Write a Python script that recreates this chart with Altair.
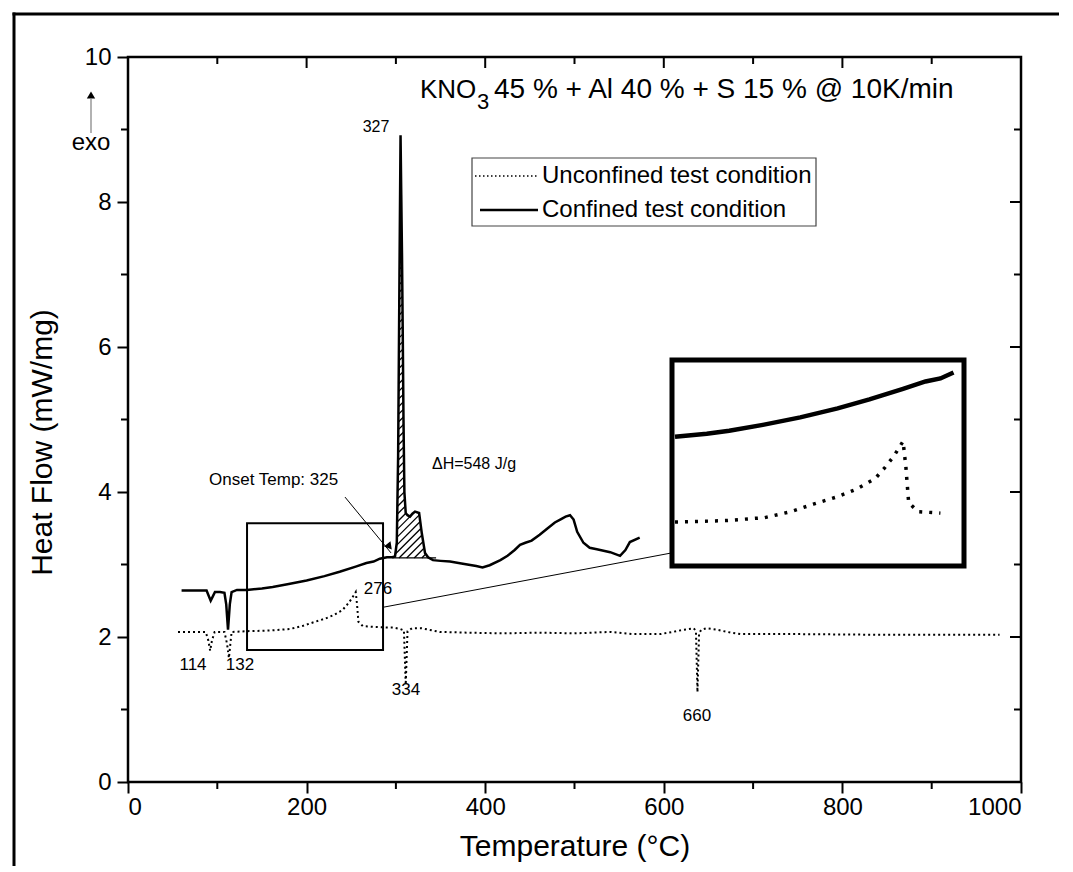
import altair as alt
import numpy as np
import pandas as pd

# ---------------- data ----------------
conf_T = [60, 88, 90, 92.6, 95, 97.4, 103, 108, 110, 112, 114, 116, 122, 133, 150, 162, 180, 200,
          220, 237, 255, 267, 275, 282, 290, 296, 299, 301, 302.5, 304, 305.2, 306, 306.8, 307.6,
          308.5, 309.5, 311, 313, 315.8, 318.5, 321.4, 326, 329, 332.6, 336, 341.5, 350, 360.6,
          375, 390, 397, 405, 417, 425, 433, 439, 445, 452, 461, 470, 478, 484, 490, 495, 499,
          503, 510, 517, 525, 540, 551, 557, 562, 573]
conf_V = [2.64, 2.64, 2.58, 2.50, 2.56, 2.62, 2.62, 2.61, 2.45, 2.10, 2.45, 2.62, 2.65, 2.65, 2.67,
          2.69, 2.73, 2.78, 2.84, 2.90, 2.97, 3.02, 3.04, 3.08, 3.10, 3.10, 3.11, 3.30, 4.50, 7.00,
          8.92, 8.10, 7.30, 6.30, 5.00, 4.00, 3.71, 3.68, 3.66, 3.70, 3.73, 3.71, 3.43, 3.16, 3.10,
          3.06, 3.05, 3.04, 3.01, 2.98, 2.96, 2.99, 3.06, 3.12, 3.20, 3.27, 3.30, 3.33, 3.41, 3.50,
          3.58, 3.62, 3.66, 3.68, 3.62, 3.45, 3.30, 3.23, 3.21, 3.17, 3.12, 3.20, 3.31, 3.37]

unc_T = [56, 87, 90, 92, 94, 97, 108, 111, 113, 116, 133, 160, 181, 195, 207, 220, 230, 240, 245,
         250, 255, 256.5, 258, 263, 275, 290, 297, 305, 309, 311, 313, 318, 329, 349, 380, 420,
         460, 500, 540, 565, 596, 610, 622, 633.6, 636, 637.7, 639.5, 642, 648, 659.5, 675, 686,
         750, 850, 976]
unc_V = [2.07, 2.07, 1.95, 1.81, 1.95, 2.07, 2.07, 1.90, 1.71, 2.07, 2.08, 2.09, 2.11, 2.15, 2.20,
         2.25, 2.30, 2.37, 2.44, 2.52, 2.62, 2.45, 2.21, 2.15, 2.14, 2.13, 2.13, 2.11, 2.09, 1.34,
         2.08, 2.12, 2.12, 2.07, 2.06, 2.05, 2.06, 2.05, 2.07, 2.04, 2.04, 2.07, 2.10, 2.12, 2.08,
         1.24, 2.05, 2.10, 2.12, 2.10, 2.06, 2.04, 2.04, 2.03, 2.03]

x_major = [0, 200, 400, 600, 800, 1000]
x_minor = [100, 300, 500, 700, 900]
y_major = [0, 2, 4, 6, 8, 10]
y_minor = [1, 3, 5, 7, 9]

zoom_box_T = [133.3, 285.6]
zoom_box_V = [1.82, 3.57]
inset_T = [133, 286]
inset_V = [1.80, 3.15]
connector_T = [285.6, 609]
connector_V = [2.41, 3.16]

baseline_V = 3.09
baseline_T = [296, 345]
hatch_T = [299, 342]

ann_text = ["327", "114", "132", "276", "334", "660", "Onset Temp: 325", "\u0394H=548 J/g"]
ann_T = [277.7, 72.8, 125.4, 280, 311.3, 637.2, 90.7, 340.4]
ann_V = [9.03, 1.61, 1.61, 2.66, 1.27, 0.91, 4.17, 4.39]
ann_size = [16, 17, 17, 17, 17, 17, 17, 16]
ann_align = ["center", "center", "center", "center", "center", "center", "left", "left"]

onset_arrow_T = [243, 294.5]
onset_arrow_V = [3.93, 3.16]

legend_labels = ["Unconfined test condition", "Confined test condition"]
title_parts = ["KNO", "3", "45 % + Al 40 % + S 15 % @ 10K/min"]

# ---------------- layout ----------------
W, H = 893, 725
FONT = "Liberation Sans"

conf = pd.DataFrame({"T": conf_T, "V": conf_V})
unc = pd.DataFrame({"T": unc_T, "V": unc_V})

# hatch lines (45 deg in pixel space) between the curve and baseline
k = (W / 1000) / (H / 10)
Ts = np.arange(hatch_T[0], hatch_T[1], 0.02)
curve = np.interp(Ts, conf_T, conf_V)
rows = []
for c in np.arange(hatch_T[0] - 480, hatch_T[1], 8.5):
    Vl = baseline_V + k * (Ts - c)
    inside = (Vl >= baseline_V) & (Vl <= curve)
    idx = np.where(inside)[0]
    if len(idx) == 0:
        continue
    for s in np.split(idx, np.where(np.diff(idx) > 1)[0] + 1):
        if len(s) < 2:
            continue
        rows.append({"T": Ts[s[0]], "V": Vl[s[0]], "T2": Ts[s[-1]], "V2": Vl[s[-1]]})
hatch = pd.DataFrame(rows)

xs = alt.Scale(domain=[0, 1000], nice=False, zero=False)
ys = alt.Scale(domain=[0, 10], nice=False, zero=False)
X = alt.X("T:Q", scale=xs, axis=alt.Axis(
    values=x_major, format="d", title="Temperature (\u00b0C)", domain=False, grid=False,
    tickSize=11, tickWidth=2, tickColor="black", labelPadding=2,
    labelFont=FONT, labelFontSize=24, labelColor="black",
    titleFont=FONT, titleFontSize=30, titleFontWeight="normal", titleColor="black",
    titleY=64, titleBaseline="middle"))
Y = alt.Y("V:Q", scale=ys, axis=alt.Axis(
    values=y_major, format="d", title="Heat Flow (mW/mg)", domain=False, grid=False,
    tickSize=11, tickWidth=2, tickColor="black", labelPadding=6,
    labelFont=FONT, labelFontSize=24, labelColor="black",
    titleFont=FONT, titleFontSize=30, titleFontWeight="normal", titleColor="black",
    titleX=-86, titleY=385, titleAngle=270, titleAlign="center", titleBaseline="middle"))

layers = []
# outer border of the whole figure: only its top and left edges fall inside the picture
one = pd.DataFrame({"a": [0]})
layers.append(alt.Chart(one).mark_rule(color="black", strokeWidth=3).encode(
    x=alt.value(-115.5), x2=alt.value(W + 200), y=alt.value(-43)))
layers.append(alt.Chart(one).mark_rule(color="black", strokeWidth=3).encode(
    x=alt.value(-114), y=alt.value(-44.5), y2=alt.value(H + 250)))

# minor & mirror ticks
def tick_rules(vals, axis, a, b):
    d = pd.DataFrame({"t": vals})
    if axis == "x":
        return alt.Chart(d).mark_rule(color="black", strokeWidth=2).encode(
            x=alt.X("t:Q", scale=xs), y=alt.value(a), y2=alt.value(b))
    return alt.Chart(d).mark_rule(color="black", strokeWidth=2).encode(
        y=alt.Y("t:Q", scale=ys), x=alt.value(a), x2=alt.value(b))

layers += [
    tick_rules(x_minor, "x", H, H + 7),
    tick_rules(x_major, "x", 0, 11),
    tick_rules(x_minor, "x", 0, 7),
    tick_rules(y_minor, "y", -7, 0),
    tick_rules(y_major, "y", W - 11, W),
    tick_rules(y_minor, "y", W - 7, W),
]

# hatch
layers.append(alt.Chart(hatch).mark_rule(color="black", strokeWidth=1.3).encode(
    x=X, y=Y, x2="T2:Q", y2="V2:Q"))
layers.append(alt.Chart(pd.DataFrame({"T": [baseline_T[0]], "T2": [baseline_T[1]], "V": [baseline_V]}))
              .mark_rule(color="black", strokeWidth=1.2).encode(x=X, x2="T2:Q", y=Y))

# curves
layers.append(alt.Chart(unc).mark_line(color="black", strokeWidth=2, strokeDash=[2, 3]).encode(x=X, y=Y, order="T:Q"))
layers.append(alt.Chart(conf).mark_line(color="black", strokeWidth=2.5).encode(x=X, y=Y, order="T:Q"))

# zoom box and connector
layers.append(alt.Chart(pd.DataFrame({"T": [zoom_box_T[0]], "T2": [zoom_box_T[1]],
                                      "V": [zoom_box_V[0]], "V2": [zoom_box_V[1]]}))
              .mark_rect(fill=None, stroke="black", strokeWidth=2).encode(x=X, x2="T2:Q", y=Y, y2="V2:Q"))
layers.append(alt.Chart(pd.DataFrame({"T": connector_T, "V": connector_V}))
              .mark_line(color="black", strokeWidth=1).encode(x=X, y=Y))

# onset arrow
layers.append(alt.Chart(pd.DataFrame({"T": [onset_arrow_T[0]], "T2": [onset_arrow_T[1]],
                                      "V": [onset_arrow_V[0]], "V2": [onset_arrow_V[1]]}))
              .mark_rule(color="black", strokeWidth=1).encode(x=X, x2="T2:Q", y=Y, y2="V2:Q"))
layers.append(alt.Chart(pd.DataFrame({"T": [onset_arrow_T[1] - 2.5], "V": [onset_arrow_V[1] + 0.1]}))
              .mark_point(shape="triangle", filled=True, color="black", size=70, angle=141, opacity=1).encode(x=X, y=Y))

# annotations
ann = pd.DataFrame({"T": ann_T, "V": ann_V, "txt": ann_text, "size": ann_size, "al": ann_align})
for al in ["center", "left"]:
    layers.append(alt.Chart(ann[ann.al == al]).mark_text(font=FONT, color="black", align=al, baseline="middle").encode(
        x=X, y=Y, text="txt:N", size=alt.Size("size:Q", scale=None, legend=None)))

# exo arrow
layers.append(alt.Chart(one).mark_rule(color="#999999", strokeWidth=1.5).encode(
    x=alt.value(-37), y=alt.value(76), y2=alt.value(42)))
layers.append(alt.Chart(one).mark_point(shape="triangle-up", filled=True, color="black", size=70, opacity=1).encode(
    x=alt.value(-37), y=alt.value(38)))
layers.append(alt.Chart(pd.DataFrame({"t": ["exo"]})).mark_text(font=FONT, fontSize=24, color="black", align="center", baseline="middle").encode(
    x=alt.value(-37), y=alt.value(86), text="t:N"))

# title (KNO with subscript 3)
layers.append(alt.Chart(pd.DataFrame({"t": [title_parts[0]]})).mark_text(font=FONT, fontSize=26, color="black", align="left", baseline="middle").encode(
    x=alt.value(292), y=alt.value(33), text="t:N"))
layers.append(alt.Chart(pd.DataFrame({"t": [title_parts[1]]})).mark_text(font=FONT, fontSize=22, color="black", align="left", baseline="middle").encode(
    x=alt.value(349), y=alt.value(45), text="t:N"))
layers.append(alt.Chart(pd.DataFrame({"t": [title_parts[2]]})).mark_text(font=FONT, fontSize=28, color="black", align="left", baseline="middle").encode(
    x=alt.value(366), y=alt.value(33), text="t:N"))

# legend
layers.append(alt.Chart(one).mark_rect(fill="white", stroke="#444444", strokeWidth=1.2).encode(
    x=alt.value(344), x2=alt.value(688), y=alt.value(101), y2=alt.value(169)))
layers.append(alt.Chart(one).mark_rule(color="black", strokeWidth=1.5, strokeDash=[1.5, 2.5]).encode(
    x=alt.value(347), x2=alt.value(410), y=alt.value(119)))
layers.append(alt.Chart(one).mark_rule(color="black", strokeWidth=2.5).encode(
    x=alt.value(352), x2=alt.value(410), y=alt.value(153)))
layers.append(alt.Chart(pd.DataFrame({"t": legend_labels, "yy": [119, 153]})).mark_text(
    font=FONT, fontSize=24, color="black", align="left", baseline="middle").encode(
    x=alt.value(414), y=alt.Y("yy:Q", scale=None), text="t:N"))

main = alt.layer(*layers)

# ---------------- inset (magnified view) ----------------
ixs = alt.Scale(domain=inset_T, range=[547, 833], nice=False, zero=False)
iys = alt.Scale(domain=inset_V, range=[507, 305], nice=False, zero=False)
IX = alt.X("T:Q", scale=ixs, axis=None)
IY = alt.Y("V:Q", scale=iys, axis=None)
inset_layers = [
    alt.Chart(one).mark_rect(fill="white", stroke="black", strokeWidth=5).encode(
        x=alt.value(544), x2=alt.value(836), y=alt.value(303), y2=alt.value(509)),
    alt.Chart(unc).transform_filter(f"datum.T >= {inset_T[0]} && datum.T <= {inset_T[1]}")
    .mark_line(color="black", strokeWidth=3.5, strokeDash=[3, 7]).encode(x=IX, y=IY, order="T:Q"),
    alt.Chart(conf).transform_filter(f"datum.T >= {inset_T[0]} && datum.T <= {inset_T[1] - 3}")
    .mark_line(color="black", strokeWidth=4.5).encode(x=IX, y=IY, order="T:Q"),
]
inset = alt.layer(*inset_layers)

chart = alt.layer(main, inset).resolve_scale(x="independent", y="independent").properties(
    width=W, height=H,
    padding={"left": 128, "top": 57, "right": 38, "bottom": 84},
    autosize=alt.AutoSizeParams(type="none"),
    background="white",
).configure_view(stroke="black", strokeWidth=2.5)

chart.save("out.html", embed_options={"renderer": "svg", "actions": False})
